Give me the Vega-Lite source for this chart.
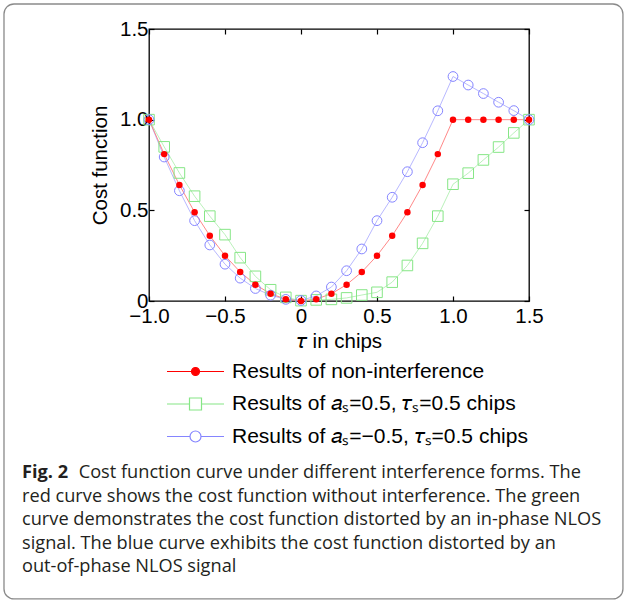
{
  "$schema": "https://vega.github.io/schema/vega-lite/v6.json",
  "width": 380,
  "height": 272,
  "autosize": {"type": "none"},
  "padding": {"left": 149, "top": 29, "right": 95, "bottom": 301},
  "background": "white",
  "config": {
    "view": {"stroke": "#000", "strokeWidth": 1.3},
    "font": "Liberation Sans",
    "axis": {
      "labelFont": "Liberation Sans",
      "titleFont": "Liberation Sans",
      "labelFontSize": 20.5,
      "titleFontSize": 20.5,
      "titleFontWeight": "normal",
      "labelColor": "#000",
      "titleColor": "#000",
      "tickColor": "#000",
      "tickWidth": 1.2,
      "tickSize": -5,
      "domain": false,
      "grid": false,
      "labelFlush": false,
      "labelOverlap": false
    }
  },
  "title": {
    "text": "Fig. 2",
    "subtitle": [
      "\u200b\u00a0\u00a0\u00a0\u00a0\u00a0\u00a0\u00a0\u00a0\u00a0\u00a0\u00a0\u00a0Cost function curve under different interference forms. The",
      "red curve shows the cost function without interference. The green",
      "curve demonstrates the cost function distorted by an in-phase NLOS",
      "signal. The blue curve exhibits the cost function distorted by an",
      "out-of-phase NLOS signal"
    ],
    "orient": "bottom",
    "anchor": "start",
    "frame": "group",
    "font": "Open Sans",
    "fontSize": 18.2,
    "fontWeight": "bold",
    "color": "#231f20",
    "subtitleFont": "Open Sans",
    "subtitleFontSize": 18.2,
    "subtitleColor": "#231f20",
    "subtitleLineHeight": 23.5,
    "subtitlePadding": -18.2,
    "dx": -127,
    "offset": -135.5
  },
  "datasets": {
    "curves": [
      {"x": -1.0, "y": 1.0, "s": "g"}, {"x": -0.9, "y": 0.85, "s": "g"}, {"x": -0.8, "y": 0.706, "s": "g"},
      {"x": -0.7, "y": 0.578, "s": "g"}, {"x": -0.6, "y": 0.468, "s": "g"}, {"x": -0.5, "y": 0.366, "s": "g"},
      {"x": -0.4, "y": 0.239, "s": "g"}, {"x": -0.3, "y": 0.136, "s": "g"}, {"x": -0.2, "y": 0.062, "s": "g"},
      {"x": -0.1, "y": 0.02, "s": "g"}, {"x": 0.0, "y": 0.002, "s": "g"}, {"x": 0.1, "y": 0.006, "s": "g"},
      {"x": 0.2, "y": 0.009, "s": "g"}, {"x": 0.3, "y": 0.017, "s": "g"}, {"x": 0.4, "y": 0.033, "s": "g"},
      {"x": 0.5, "y": 0.048, "s": "g"}, {"x": 0.6, "y": 0.104, "s": "g"}, {"x": 0.7, "y": 0.196, "s": "g"},
      {"x": 0.8, "y": 0.318, "s": "g"}, {"x": 0.9, "y": 0.468, "s": "g"}, {"x": 1.0, "y": 0.644, "s": "g"},
      {"x": 1.1, "y": 0.705, "s": "g"}, {"x": 1.2, "y": 0.778, "s": "g"}, {"x": 1.3, "y": 0.849, "s": "g"},
      {"x": 1.4, "y": 0.927, "s": "g"}, {"x": 1.5, "y": 1.0, "s": "g"},
      {"x": -1.0, "y": 1.0, "s": "b"}, {"x": -0.9, "y": 0.794, "s": "b"}, {"x": -0.8, "y": 0.608, "s": "b"},
      {"x": -0.7, "y": 0.443, "s": "b"}, {"x": -0.6, "y": 0.309, "s": "b"}, {"x": -0.5, "y": 0.203, "s": "b"},
      {"x": -0.4, "y": 0.126, "s": "b"}, {"x": -0.3, "y": 0.069, "s": "b"}, {"x": -0.2, "y": 0.032, "s": "b"},
      {"x": -0.1, "y": 0.009, "s": "b"}, {"x": 0.0, "y": 0.003, "s": "b"}, {"x": 0.1, "y": 0.028, "s": "b"},
      {"x": 0.2, "y": 0.077, "s": "b"}, {"x": 0.3, "y": 0.167, "s": "b"}, {"x": 0.4, "y": 0.287, "s": "b"},
      {"x": 0.5, "y": 0.443, "s": "b"}, {"x": 0.6, "y": 0.572, "s": "b"}, {"x": 0.7, "y": 0.713, "s": "b"},
      {"x": 0.8, "y": 0.873, "s": "b"}, {"x": 0.9, "y": 1.049, "s": "b"}, {"x": 1.0, "y": 1.238, "s": "b"},
      {"x": 1.1, "y": 1.191, "s": "b"}, {"x": 1.2, "y": 1.144, "s": "b"}, {"x": 1.3, "y": 1.096, "s": "b"},
      {"x": 1.4, "y": 1.05, "s": "b"}, {"x": 1.5, "y": 1.0, "s": "b"},
      {"x": -1.0, "y": 1.0, "s": "n"}, {"x": -0.9, "y": 0.81, "s": "n"}, {"x": -0.8, "y": 0.64, "s": "n"},
      {"x": -0.7, "y": 0.49, "s": "n"}, {"x": -0.6, "y": 0.36, "s": "n"}, {"x": -0.5, "y": 0.25, "s": "n"},
      {"x": -0.4, "y": 0.16, "s": "n"}, {"x": -0.3, "y": 0.09, "s": "n"}, {"x": -0.2, "y": 0.04, "s": "n"},
      {"x": -0.1, "y": 0.01, "s": "n"}, {"x": 0.0, "y": 0.0, "s": "n"}, {"x": 0.1, "y": 0.01, "s": "n"},
      {"x": 0.2, "y": 0.04, "s": "n"}, {"x": 0.3, "y": 0.09, "s": "n"}, {"x": 0.4, "y": 0.16, "s": "n"},
      {"x": 0.5, "y": 0.25, "s": "n"}, {"x": 0.6, "y": 0.36, "s": "n"}, {"x": 0.7, "y": 0.49, "s": "n"},
      {"x": 0.8, "y": 0.64, "s": "n"}, {"x": 0.9, "y": 0.81, "s": "n"}, {"x": 1.0, "y": 1.0, "s": "n"},
      {"x": 1.1, "y": 1.0, "s": "n"}, {"x": 1.2, "y": 1.0, "s": "n"}, {"x": 1.3, "y": 1.0, "s": "n"},
      {"x": 1.4, "y": 1.0, "s": "n"}, {"x": 1.5, "y": 1.0, "s": "n"}
    ]
  },
  "data": {"name": "curves"},
  "resolve": {"axis": {"x": "independent", "y": "independent"}},
  "layer": [
    {
      "data": {"values": [{}]},
      "mark": {"type": "rect", "fill": "white", "fillOpacity": 0, "stroke": "#8a8a8a", "strokeWidth": 1.3, "cornerRadius": 10},
      "encoding": {
        "x": {"datum": -1.954, "type": "quantitative", "scale": {"domain": [-1, 1.5], "nice": false, "zero": false}, "axis": null},
        "x2": {"datum": 2.118},
        "y": {"datum": 1.638, "type": "quantitative", "scale": {"domain": [0, 1.5], "nice": false, "zero": false}, "axis": null},
        "y2": {"datum": -1.643}
      }
    },
    {
      "transform": [{"filter": "datum.s == 'g'"}],
      "mark": {"type": "line", "strokeWidth": 0.8, "stroke": "#a8eea8"},
      "encoding": {
        "x": {
          "field": "x", "type": "quantitative",
          "scale": {"domain": [-1, 1.5], "nice": false, "zero": false},
          "axis": {
            "orient": "bottom",
            "values": [-1, -0.5, 0, 0.5, 1, 1.5],
            "labelExpr": "datum.value == 0 ? '0' : format(datum.value, '.1f')",
            "title": "𝜏 in chips",
            "labelPadding": 10,
            "titlePadding": 5
          }
        },
        "y": {
          "field": "y", "type": "quantitative",
          "scale": {"domain": [0, 1.5], "nice": false, "zero": false},
          "axis": {
            "orient": "left",
            "values": [0, 0.5, 1, 1.5],
            "labelExpr": "datum.value == 0 ? '0' : format(datum.value, '.1f')",
            "title": "Cost function",
            "labelPadding": 6,
            "titlePadding": 9
          }
        }
      }
    },
    {
      "transform": [{"filter": "datum.s == 'b'"}],
      "mark": {"type": "line", "strokeWidth": 0.8, "stroke": "#a6a6ff"},
      "encoding": {
        "x": {"field": "x", "type": "quantitative", "axis": null},
        "y": {"field": "y", "type": "quantitative", "axis": null}
      }
    },
    {
      "transform": [{"filter": "datum.s == 'n'"}],
      "mark": {"type": "line", "strokeWidth": 0.9, "stroke": "#ff7a7a"},
      "encoding": {
        "x": {"field": "x", "type": "quantitative", "axis": null},
        "y": {"field": "y", "type": "quantitative", "axis": null}
      }
    },
    {
      "transform": [{"filter": "datum.s == 'g'"}],
      "mark": {"type": "point", "shape": "square", "size": 112, "filled": false, "stroke": "#86e686", "strokeWidth": 1, "opacity": 1},
      "encoding": {
        "x": {"field": "x", "type": "quantitative", "axis": null},
        "y": {"field": "y", "type": "quantitative", "axis": null}
      }
    },
    {
      "transform": [{"filter": "datum.s == 'b'"}],
      "mark": {"type": "point", "shape": "circle", "size": 95, "filled": false, "stroke": "#8585ff", "strokeWidth": 1, "opacity": 1},
      "encoding": {
        "x": {"field": "x", "type": "quantitative", "axis": null},
        "y": {"field": "y", "type": "quantitative", "axis": null}
      }
    },
    {
      "transform": [{"filter": "datum.s == 'n'"}],
      "mark": {"type": "point", "shape": "circle", "size": 42, "filled": true, "fill": "#ff0000", "strokeWidth": 0, "opacity": 1},
      "encoding": {
        "x": {
          "field": "x", "type": "quantitative",
          "axis": {"orient": "top", "values": [-1, -0.5, 0, 0.5, 1, 1.5], "labels": false, "title": null}
        },
        "y": {
          "field": "y", "type": "quantitative",
          "axis": {"orient": "right", "values": [0, 0.5, 1, 1.5], "labels": false, "title": null}
        }
      }
    },
    {
      "transform": [{"filter": "datum.y > 10"}],
      "mark": {"type": "point", "filled": true, "opacity": 1},
      "encoding": {
        "x": {"field": "x", "type": "quantitative", "axis": null},
        "y": {"field": "y", "type": "quantitative", "axis": null},
        "shape": {
          "field": "s", "type": "nominal",
          "scale": {
            "domain": ["n", "g", "b"],
            "range": [
              "M-5.7,0L5.7,0M0.8,0A0.8,0.8,0,1,1,-0.8,0A0.8,0.8,0,1,1,0.8,0Z",
              "M-5.7,0L-1.2,0M1.2,0L5.7,0M-1.2,-1.2L1.2,-1.2L1.2,1.2L-1.2,1.2Z",
              "M-5.7,0L-1.1,0M1.1,0L5.7,0M1.1,0A1.1,1.1,0,1,1,-1.1,0A1.1,1.1,0,1,1,1.1,0Z"
            ]
          },
          "legend": {
            "orient": "none", "legendX": 36, "legendY": 332, "title": null,
            "labelFont": "Liberation Sans", "labelFontSize": 21, "labelColor": "#000",
            "labelOffset": 26, "labelLimit": 500, "rowPadding": 10.5, "symbolSize": 100, "symbolStrokeWidth": 1.2,
            "labelExpr": "datum.value == 'n' ? 'Results of non-interference' : datum.value == 'g' ? 'Results of 𝑎ₛ=0.5, 𝜏ₛ=0.5 chips' : 'Results of 𝑎ₛ=−0.5, 𝜏ₛ=0.5 chips'"
          }
        },
        "stroke": {
          "field": "s", "type": "nominal",
          "scale": {"domain": ["n", "g", "b"], "range": ["#ff0000", "#86e686", "#8585ff"]},
          "legend": {
            "orient": "none", "legendX": 36, "legendY": 332, "title": null,
            "labelFont": "Liberation Sans", "labelFontSize": 21, "labelColor": "#000",
            "labelOffset": 26, "labelLimit": 500, "rowPadding": 10.5, "symbolSize": 100, "symbolStrokeWidth": 1.2,
            "labelExpr": "datum.value == 'n' ? 'Results of non-interference' : datum.value == 'g' ? 'Results of 𝑎ₛ=0.5, 𝜏ₛ=0.5 chips' : 'Results of 𝑎ₛ=−0.5, 𝜏ₛ=0.5 chips'"
          }
        },
        "fill": {
          "field": "s", "type": "nominal",
          "scale": {"domain": ["n", "g", "b"], "range": ["#ff0000", "transparent", "transparent"]},
          "legend": {
            "orient": "none", "legendX": 36, "legendY": 332, "title": null,
            "labelFont": "Liberation Sans", "labelFontSize": 21, "labelColor": "#000",
            "labelOffset": 26, "labelLimit": 500, "rowPadding": 10.5, "symbolSize": 100, "symbolStrokeWidth": 1.2,
            "labelExpr": "datum.value == 'n' ? 'Results of non-interference' : datum.value == 'g' ? 'Results of 𝑎ₛ=0.5, 𝜏ₛ=0.5 chips' : 'Results of 𝑎ₛ=−0.5, 𝜏ₛ=0.5 chips'"
          }
        }
      }
    }
  ]
}
